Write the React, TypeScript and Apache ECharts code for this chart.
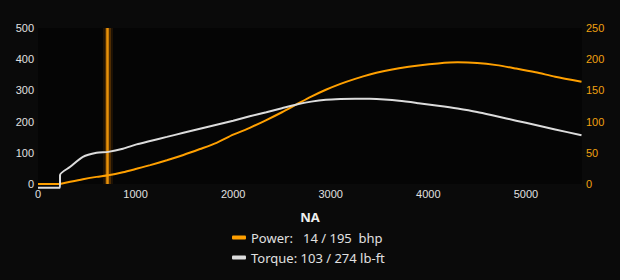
import React, { useEffect, useRef } from "react";
import * as echarts from "echarts";

const rpm = [0, 225, 226, 330, 460, 600, 720, 870, 1010, 1150, 1320, 1490, 1660, 1830, 2000, 2170, 2340, 2500, 2650, 2800, 2950, 3100, 3250, 3400, 3550, 3700, 3900, 4100, 4300, 4500, 4700, 4900, 5100, 5300, 5570];
const torque = [-12, -12, 29, 55, 87, 100, 103, 113, 127, 138, 151, 164, 177, 190, 203, 217, 230, 243, 255, 264, 270, 272.5, 273.5, 273, 270.5, 266.5, 259, 251, 242, 231, 217, 203, 189, 175, 156];
const power = [0, 0, 1, 3.5, 7.6, 11.4, 14, 18.8, 24.4, 30.2, 38, 46.5, 56, 66, 79, 90, 102.5, 115, 127.5, 140, 151, 160.5, 168.5, 175.5, 181, 185.5, 190, 193.3, 195, 194, 190.5, 185, 179, 172, 164];

const cursorRpm = 710;
const chartTitle = "NA";
const legendPower = "Power:   14 / 195  bhp";
const legendTorque = "Torque: 103 / 274 lb-ft";
const xTicks = [0, 1000, 2000, 3000, 4000, 5000];

export default function App() {
  const ref = useRef<HTMLDivElement>(null);
  useEffect(() => {
    const chart = echarts.init(ref.current!, null, { renderer: "svg" });
    const orange = "#ffa000";
    const white = "#dcdcdc";
    chart.setOption({
      animation: false,
      backgroundColor: "#0a0a0a",
      title: {
        text: chartTitle,
        left: "center",
        top: 205,
        textStyle: { color: "#eeeeee", fontSize: 13, fontWeight: "bold", fontFamily: "Noto Sans" },
      },
      legend: {
        orient: "vertical",
        left: 227,
        top: 226,
        itemGap: 7,
        itemWidth: 14,
        itemHeight: 4,
        icon: "roundRect",
        data: ["Power", "Torque"],
        formatter: (n: string) => (n === "Power" ? legendPower : legendTorque),
        textStyle: { color: "#e0e0e0", fontSize: 13, fontFamily: "Noto Sans" },
      },
      grid: {
        left: 38,
        right: 38,
        top: 28,
        bottom: 96,
        show: true,
        backgroundColor: "#050505",
        borderWidth: 0,
      },
      xAxis: {
        type: "value",
        min: 0,
        max: 5575,
        interval: 1000,
        axisLine: { show: false },
        axisTick: { show: false },
        splitLine: { show: false },
        axisLabel: {
          color: "#e0e0e0",
          fontSize: 11,
          fontFamily: "Liberation Sans",
          margin: 4,
          showMaxLabel: false,
          formatter: (v: number) => (xTicks.includes(v) ? String(v) : ""),
        },
      },
      yAxis: [
        {
          type: "value",
          min: 0,
          max: 500,
          interval: 100,
          axisLine: { show: false },
          axisTick: { show: false },
          splitLine: { show: false },
          axisLabel: { color: "#e0e0e0", fontSize: 11, fontFamily: "Liberation Sans", margin: 4 },
        },
        {
          type: "value",
          min: 0,
          max: 250,
          interval: 50,
          axisLine: { show: false },
          axisTick: { show: false },
          splitLine: { show: false },
          axisLabel: { color: "#f0a010", fontSize: 11, fontFamily: "Liberation Sans", margin: 4 },
        },
      ],
      series: [
        {
          name: "Power",
          type: "line",
          yAxisIndex: 1,
          showSymbol: false,
          symbol: "none",
          clip: false,
          smooth: 0.25,
          z: 3,
          data: rpm.map((r, i) => [r, power[i]]),
          lineStyle: { color: orange, width: 2 },
          itemStyle: { color: orange },
          markLine: {
            silent: true,
            symbol: "none",
            label: { show: false },
            z: 1,
            data: [
              { xAxis: cursorRpm, lineStyle: { color: "rgba(255,140,0,0.10)", width: 10, type: "solid" } },
              { xAxis: cursorRpm, lineStyle: { color: "rgba(255,140,0,0.22)", width: 6, type: "solid" } },
              { xAxis: cursorRpm, lineStyle: { color: "#e8920a", width: 2.5, type: "solid" } },
            ],
          },
        },
        {
          name: "Torque",
          type: "line",
          yAxisIndex: 0,
          showSymbol: false,
          symbol: "none",
          clip: false,
          smooth: 0.25,
          z: 3,
          data: rpm.map((r, i) => [r, torque[i]]),
          lineStyle: { color: white, width: 2 },
          itemStyle: { color: white },
        },
      ],
    });
    return () => chart.dispose();
  }, []);
  return <div ref={ref} style={{ width: 620, height: 280, position: "absolute", left: 0, top: 0 }} />;
}
